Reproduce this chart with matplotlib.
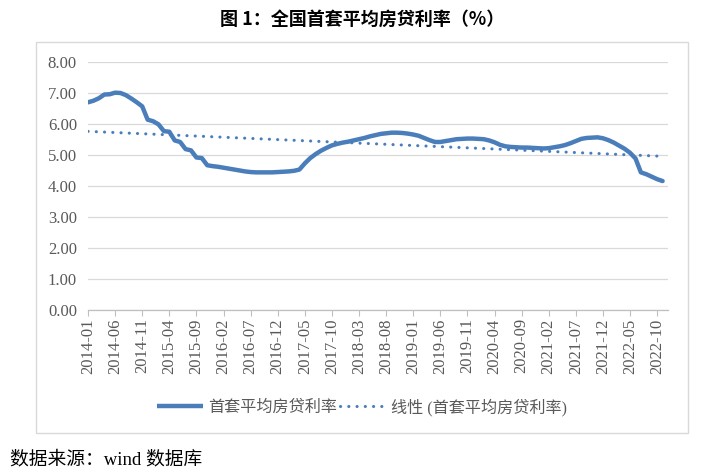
import matplotlib
matplotlib.use("Agg")
import matplotlib.pyplot as plt
import numpy as np
import pandas as pd
from matplotlib.patches import Rectangle
from matplotlib.lines import Line2D

# ---- data ----
categories = [d.strftime("%Y-%m") for d in pd.date_range("2014-01-01", "2022-12-01", freq="MS")]
rate = [
    6.70, 6.75, 6.83, 6.95, 6.96, 7.01, 7.00, 6.93, 6.82, 6.70, 6.57, 6.14,   # 2014
    6.09, 5.99, 5.77, 5.75, 5.47, 5.42, 5.19, 5.15, 4.92, 4.90, 4.67, 4.64,   # 2015
    4.62, 4.59, 4.56, 4.53, 4.50, 4.47, 4.45, 4.44, 4.44, 4.44, 4.44, 4.45,   # 2016
    4.46, 4.47, 4.49, 4.53, 4.73, 4.90, 5.03, 5.14, 5.23, 5.31, 5.36, 5.40,   # 2017
    5.43, 5.47, 5.51, 5.55, 5.60, 5.64, 5.68, 5.70, 5.72, 5.72, 5.71, 5.69,   # 2018
    5.66, 5.62, 5.55, 5.48, 5.42, 5.42, 5.45, 5.48, 5.51, 5.52, 5.53, 5.53,   # 2019
    5.52, 5.51, 5.47, 5.41, 5.33, 5.28, 5.26, 5.25, 5.24, 5.24, 5.23, 5.22,   # 2020
    5.21, 5.22, 5.25, 5.28, 5.32, 5.38, 5.45, 5.52, 5.55, 5.56, 5.57, 5.54,   # 2021
    5.48, 5.40, 5.30, 5.20, 5.07, 4.89, 4.44, 4.38, 4.30, 4.22, 4.16, np.nan,  # 2022
]
tick_every = 5
yticks = [0, 1, 2, 3, 4, 5, 6, 7, 8]
series_name = "首套平均房贷利率"
trend_name = "线性 (首套平均房贷利率)"
title = "图 1：全国首套平均房贷利率（%）"
source = "数据来源：wind 数据库"

# ---- figure ----
W, H = 725, 474
fig = plt.figure(figsize=(W / 100, H / 100), dpi=100)
fig.patch.set_facecolor("white")

def fx(px):
    return px / W

def fy(py):
    return 1 - py / H

ax_l, ax_r, ax_t, ax_b = 88, 668, 62, 310
ax = fig.add_axes([fx(ax_l), fy(ax_b), fx(ax_r - ax_l), (ax_b - ax_t) / H])

blue = "#4a7ebb"
x = np.arange(len(categories))
y = np.array(rate, dtype=float)
valid = ~np.isnan(y)

ax.plot(x, y, color=blue, lw=3.2, solid_capstyle="round", solid_joinstyle="round", zorder=3)

coef = np.polyfit(x[valid], y[valid], 1)
xt = x[valid]
ax.plot(xt, np.polyval(coef, xt), color=blue, lw=2.2, linestyle=(0, (0.05, 2.65)),
        dash_capstyle="round", zorder=2)

ax.set_xlim(0, len(categories) - 1)
ax.set_ylim(0, 8)
ax.set_yticks(yticks)
ax.set_yticklabels([f"{v:.2f}" for v in yticks], family="Liberation Serif", fontsize=12, color="#595959")
tpos = list(range(0, len(categories), tick_every))
ax.set_xticks(tpos)
ax.set_xticklabels([categories[i] for i in tpos], rotation=90, family="Liberation Serif",
                   fontsize=12, color="#595959")
ax.tick_params(axis="y", length=0, pad=8)
ax.tick_params(axis="x", length=4, color="#bfbfbf", width=0.8, pad=2)
ax.grid(axis="y", color="#d9d9d9", lw=0.9)
ax.set_axisbelow(True)
for s in ["left", "right", "top"]:
    ax.spines[s].set_visible(False)
ax.spines["bottom"].set_color("#bfbfbf")
ax.spines["bottom"].set_linewidth(0.9)

# border box
fig.patches.append(Rectangle((fx(36), fy(433)), fx(688 - 36), (433 - 42) / H,
                             transform=fig.transFigure, fill=False, edgecolor="#d9d9d9", lw=1.0))

# legend
h1 = Line2D([], [], color=blue, lw=3.2, solid_capstyle="butt")
h2 = Line2D([], [], color=blue, lw=2.2, linestyle=(0, (0.05, 2.65)), dash_capstyle="round")
leg = fig.legend([h1, h2], [series_name, trend_name], loc="center",
                 bbox_to_anchor=(fx(362), fy(407)), ncol=2, frameon=False,
                 handlelength=2.9, handletextpad=0.3, columnspacing=0.15,
                 prop={"family": ["Liberation Serif", "Noto Sans CJK SC"], "size": 11.6})
for t in leg.get_texts():
    t.set_color("#595959")

fig.text(0.5, fy(19), title, ha="center", va="center", fontsize=13, fontweight="bold",
         family=["Noto Sans CJK SC", "DejaVu Sans"])
fig.text(fx(10), fy(460), source, ha="left", va="center", fontsize=13.5, color="black",
         family=["Liberation Serif", "Noto Sans CJK SC"])

fig.savefig("out.png", dpi=100, facecolor="white")
